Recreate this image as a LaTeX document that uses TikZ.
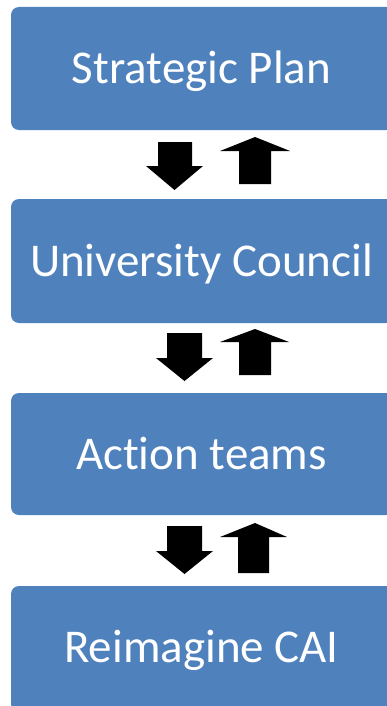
\documentclass[tikz,border=0pt]{standalone}
\usepackage{fontspec}
\setmainfont[Ligatures=NoCommon]{Carlito}
\definecolor{boxblue}{HTML}{4F81BD}
\begin{document}
\begin{tikzpicture}[x=1pt,y=-1pt,
  blk/.style={fill=boxblue,draw=none,rounded corners=8pt},
  lbl/.style={text=white,font=\fontsize{47}{56}\selectfont,inner sep=0pt,anchor=base},
  barrow/.style={fill=black,draw=none}]
\useasboundingbox (0,0) rectangle (386,706);
\fill[white] (0,0) rectangle (386,706);
% boxes
\path[blk] (11,7) rectangle (394,130);
\path[blk] (11,199) rectangle (394,323);
\path[blk] (11,393) rectangle (394,515);
\path[blk] (11,586) rectangle (394,712);
\node[lbl] (sp) at (201.5,83.5) {Strategic Plan};
\node[lbl] (uc) at (201.5,276.5) {University Council};
\node[lbl] (at) at (201.5,469.5) {Action teams};
\node[lbl] (rc) at (201.5,662) {Reimagine CAI};
% down arrows
\fill[barrow] (158,142) -- (192,142) -- (192,166) -- (203,166) -- (174.5,190) -- (146,166) -- (158,166) -- cycle;
\fill[barrow] (167,333) -- (202,333) -- (202,358) -- (213,358) -- (184.5,381) -- (156,358) -- (167,358) -- cycle;
\fill[barrow] (167,526) -- (202,526) -- (202,551) -- (213,551) -- (184.5,574) -- (156,551) -- (167,551) -- cycle;
% up arrows
\fill[barrow] (239,184) -- (271,184) -- (271,151) -- (290,151) -- (255,137) -- (220,151) -- (239,151) -- cycle;
\fill[barrow] (239,375) -- (271,375) -- (271,342) -- (289,342) -- (255,329) -- (220,342) -- (239,342) -- cycle;
\fill[barrow] (238,573) -- (269,573) -- (269,537) -- (287,537) -- (255,523) -- (220,537) -- (238,537) -- cycle;
\end{tikzpicture}
\end{document}
